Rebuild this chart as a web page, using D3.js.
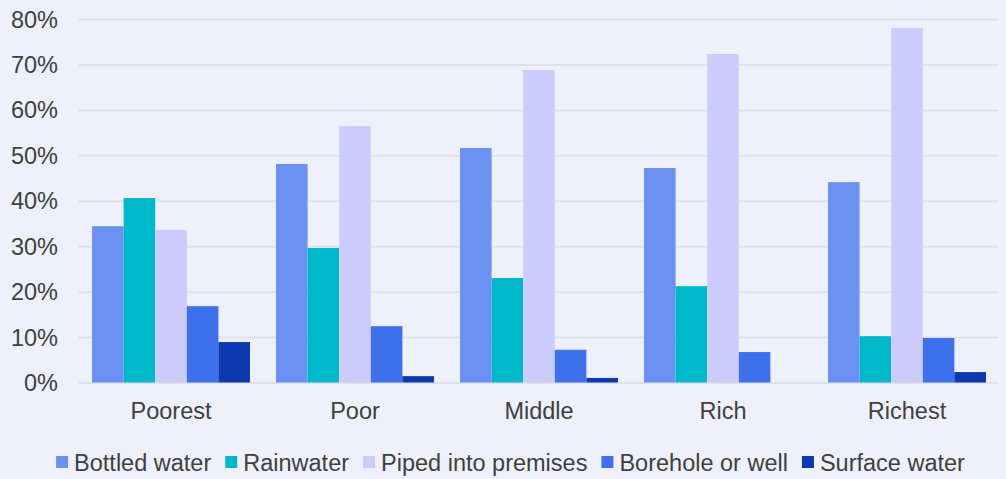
<!DOCTYPE html>
<html>
<head>
<meta charset="utf-8">
<script src="https://cdn.jsdelivr.net/npm/d3@7"></script>
<style>
  html, body { margin: 0; padding: 0; background: #eef0fc; }
  svg { display: block; }
  text { font-family: "Liberation Sans", Arial, sans-serif; fill: #404040; }
</style>
</head>
<body>
<svg id="chart" width="1006" height="479"></svg>
<script>
// Share of households by main drinking-water source, by wealth quintile (%)
const categories = ["Poorest", "Poor", "Middle", "Rich", "Richest"];
const seriesNames = ["Bottled water", "Rainwater", "Piped into premises", "Borehole or well", "Surface water"];
const bottledWater = [34.4, 48.1, 51.6, 47.2, 44.1];
const rainwater = [40.6, 29.6, 23.0, 21.2, 10.2];
const pipedIntoPremises = [33.6, 56.4, 68.8, 72.3, 78.0];
const boreholeOrWell = [16.8, 12.4, 7.2, 6.7, 9.8];
const surfaceWater = [8.9, 1.4, 1.0, 0.0, 2.3];
const yTicks = [0, 10, 20, 30, 40, 50, 60, 70, 80];

const seriesValues = [bottledWater, rainwater, pipedIntoPremises, boreholeOrWell, surfaceWater];
const colors = ["#6b91f3", "#00b8cc", "#cccbfd", "#3e70ee", "#0c38b0"];
const fontSize = 23.5;

const svg = d3.select("#chart");
const plotLeft = 79, plotRight = 999, plotTop = 19, plotBottom = 382.5;

const x0 = d3.scaleBand().domain(categories).range([plotLeft, plotRight]).paddingInner(0.1413).paddingOuter(0.0707);
const x1 = d3.scaleBand().domain(seriesNames).range([0, x0.bandwidth()]);
const y = d3.scaleLinear().domain([0, 80]).range([plotBottom, plotTop]);

// gridlines
svg.append("g").selectAll("line").data(yTicks).join("line")
  .attr("x1", plotLeft).attr("x2", plotRight)
  .attr("y1", d => y(d) + 0.5).attr("y2", d => y(d) + 0.5)
  .attr("stroke", "#e0e0e8").attr("stroke-width", 2);

// y axis labels
const yAxis = d3.axisLeft(y).tickValues(yTicks).tickFormat(d => d + "%").tickSize(0).tickPadding(0);
const ya = svg.append("g").attr("transform", "translate(58,0.5)").call(yAxis);
ya.select(".domain").remove();
ya.selectAll("text").attr("font-size", fontSize).attr("fill", "#404040")
  .style("font-family", "'Liberation Sans', Arial, sans-serif");

// bars
const groups = svg.append("g").selectAll("g").data(categories).join("g")
  .attr("transform", d => `translate(${x0(d)},0)`);
groups.selectAll("rect")
  .data((c, i) => seriesNames.map((s, k) => ({ s, v: seriesValues[k][i], k })))
  .join("rect")
  .attr("x", d => x1(d.s))
  .attr("width", x1.bandwidth())
  .attr("y", d => y(d.v))
  .attr("height", d => y(0) - y(d.v))
  .attr("fill", d => colors[d.k]);

// x axis labels
const xAxis = d3.axisBottom(x0).tickSize(0).tickPadding(0);
const xa = svg.append("g").attr("transform", "translate(0,402)").call(xAxis);
xa.select(".domain").remove();
xa.selectAll("text").attr("font-size", fontSize).attr("fill", "#404040").attr("dy", "0.72em")
  .style("font-family", "'Liberation Sans', Arial, sans-serif");

// legend
const legend = svg.append("g");
const items = legend.selectAll("g").data(seriesNames).join("g");
items.append("rect").attr("width", 12).attr("height", 12).attr("y", 456)
  .attr("fill", (d, i) => colors[i]);
items.append("text").attr("x", 18).attr("y", 471).attr("font-size", fontSize).text(d => d);
let cx = 0;
items.each(function () {
  const w = this.querySelector("text").getComputedTextLength();
  d3.select(this).attr("transform", `translate(${cx},0)`);
  cx += 18 + w + 14;
});
const total = cx - 14;
legend.attr("transform", `translate(${510.5 - total / 2},0)`);
</script>
</body>
</html>
